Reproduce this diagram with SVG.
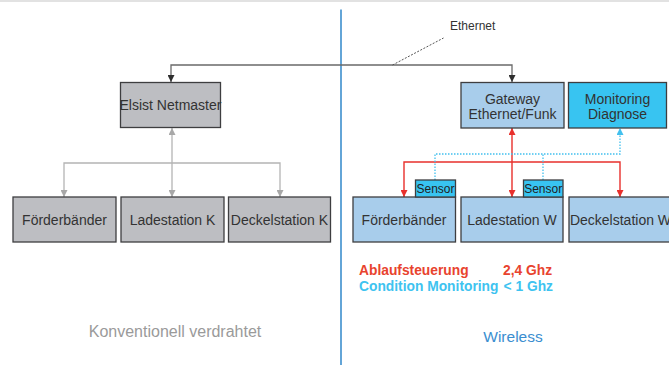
<svg xmlns="http://www.w3.org/2000/svg" width="669" height="365" viewBox="0 0 669 365">
  <style>
    text { font-family: "Liberation Sans", Arial, sans-serif; }
    .box { stroke: #3e3e40; stroke-width: 1.3; }
    .gray { fill: #bdbec2; }
    .lblue { fill: #a8cdeb; }
    .cyan { fill: #38c4f1; }
    .lbl { font-size: 14px; fill: #333; text-anchor: middle; }
    .eth { fill: none; stroke: #6a6a6a; stroke-width: 1.3; }
    .wire { fill: none; stroke: #b4b4b4; stroke-width: 1.3; }
    .red { fill: none; stroke: #e8302c; stroke-width: 1.4; }
    .blue { fill: none; stroke: #42c0ee; stroke-width: 1.3; stroke-dasharray: 1.5 1.5; }
  </style>
  <defs>
    <marker id="ah-dark" viewBox="0 0 7 7" refX="7" refY="3.5" markerWidth="7" markerHeight="7" markerUnits="userSpaceOnUse" orient="auto-start-reverse">
      <path d="M0,0 L7,3.5 L0,7 z" fill="#2e2e2e"/>
    </marker>
    <marker id="ah-gray" viewBox="0 0 7 7" refX="7" refY="3.5" markerWidth="7" markerHeight="7" markerUnits="userSpaceOnUse" orient="auto-start-reverse">
      <path d="M0,0 L7,3.5 L0,7 z" fill="#a8a8a8"/>
    </marker>
    <marker id="ah-red" viewBox="0 0 7 7" refX="7" refY="3.5" markerWidth="7" markerHeight="7" markerUnits="userSpaceOnUse" orient="auto-start-reverse">
      <path d="M0,0 L7,3.5 L0,7 z" fill="#e8302c"/>
    </marker>
    <marker id="ah-blue" viewBox="0 0 7 7" refX="7" refY="3.5" markerWidth="7" markerHeight="7" markerUnits="userSpaceOnUse" orient="auto-start-reverse">
      <path d="M0,0 L7,3.5 L0,7 z" fill="#42c0ee"/>
    </marker>
  </defs>

  <rect x="0" y="0" width="669" height="365" fill="#ffffff"/>
  <!-- top band -->
  <rect x="0" y="0" width="669" height="2" fill="#e2e2e2"/>
  <!-- divider between wired and wireless halves -->
  <line x1="341" y1="9.5" x2="341" y2="365" stroke="#3d8fcd" stroke-width="1.6"/>

  <g id="connectors">
    <!-- Ethernet backbone -->
    <path class="eth" d="M171,82 V65 H512 V82" marker-start="url(#ah-dark)" marker-end="url(#ah-dark)"/>
    <path d="M392.5,65 L443.5,38" fill="none" stroke="#555" stroke-width="1" stroke-dasharray="2 1.5"/>
    <!-- conventional wiring -->
    <path class="wire" d="M172,128 V197" marker-start="url(#ah-gray)" marker-end="url(#ah-gray)"/>
    <path class="wire" d="M64,197 V163 H280 V197" marker-start="url(#ah-gray)" marker-end="url(#ah-gray)"/>
    <!-- process control radio -->
    <path class="red" d="M512,128 V162" stroke-width="2" marker-start="url(#ah-red)"/>
    <path class="red" d="M512,162 V197" marker-end="url(#ah-red)"/>
    <path class="red" d="M404,197 V162 H620 V197" marker-start="url(#ah-red)" marker-end="url(#ah-red)"/>
    <!-- condition monitoring radio -->
    <path class="blue" d="M435,180 V154 H620 V128" marker-end="url(#ah-blue)"/>
    <path class="blue" d="M543,180 V154"/>
  </g>

  <text x="450" y="30" font-size="12" fill="#333">Ethernet</text>

  <g id="netmaster">
    <rect class="box gray" x="120.5" y="82.5" width="100" height="45"/>
    <text class="lbl" x="170.5" y="110">Elsist Netmaster</text>
  </g>
  <g id="foerder-k">
    <rect class="box gray" x="13" y="197" width="103" height="45"/>
    <text class="lbl" x="64.5" y="224.5">Förderbänder</text>
  </g>
  <g id="lade-k">
    <rect class="box gray" x="121" y="197" width="103" height="45"/>
    <text class="lbl" x="172.5" y="224.5">Ladestation K</text>
  </g>
  <g id="deckel-k">
    <rect class="box gray" x="228.5" y="197" width="102" height="45"/>
    <text class="lbl" x="279.5" y="224.5">Deckelstation K</text>
  </g>

  <g id="gateway">
    <rect class="box lblue" x="461" y="82.5" width="103" height="45.5"/>
    <text class="lbl" x="512.5" y="103.5">Gateway</text>
    <text class="lbl" x="512.5" y="118.5" font-size="12">Ethernet/Funk</text>
  </g>
  <g id="monitoring">
    <rect class="box cyan" x="568.5" y="82.5" width="98" height="45.5"/>
    <text class="lbl" x="617.5" y="103.5">Monitoring</text>
    <text class="lbl" x="617.5" y="118.5">Diagnose</text>
  </g>

  <g id="foerder-w">
    <rect class="box lblue" x="353" y="197" width="102.5" height="45"/>
    <text class="lbl" x="404" y="224.5">Förderbänder</text>
  </g>
  <g id="sensor-1">
    <rect class="box cyan" x="415.5" y="180" width="40" height="17"/>
    <text x="435.5" y="193" font-size="12" fill="#222" text-anchor="middle">Sensor</text>
  </g>
  <g id="lade-w">
    <rect class="box lblue" x="461" y="197" width="102" height="45"/>
    <text class="lbl" x="512" y="224.5">Ladestation W</text>
  </g>
  <g id="sensor-2">
    <rect class="box cyan" x="523.5" y="180" width="39.5" height="17"/>
    <text x="543.2" y="193" font-size="12" fill="#222" text-anchor="middle">Sensor</text>
  </g>
  <g id="deckel-w">
    <rect class="box lblue" x="569" y="197" width="103" height="45"/>
    <text class="lbl" x="620.5" y="224.5">Deckelstation W</text>
  </g>

  <g id="legend" font-size="13.8" font-weight="bold">
    <text x="359" y="275" fill="#e8432e">Ablaufsteuerung</text>
    <text x="503" y="275" fill="#e8432e">2,4 Ghz</text>
    <text x="359" y="291" fill="#3ec3f0">Condition Monitoring</text>
    <text x="503.5" y="291" fill="#3ec3f0">&lt; 1 Ghz</text>
  </g>

  <text x="175" y="337" font-size="16" fill="#9a9a9a" text-anchor="middle">Konventionell verdrahtet</text>
  <text x="513" y="342" font-size="15.5" fill="#3b8ed0" text-anchor="middle">Wireless</text>
</svg>
